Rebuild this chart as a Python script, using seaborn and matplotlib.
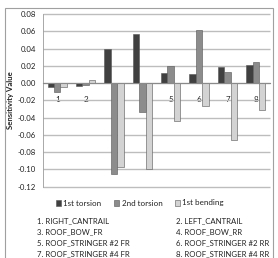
import matplotlib
matplotlib.use("Agg")
import matplotlib.pyplot as plt
import seaborn as sns
import pandas as pd
from matplotlib.patches import Rectangle
from matplotlib.ticker import FixedLocator, FormatStrFormatter

categories = ["1", "2", "3", "4", "5", "6", "7", "8"]
series_names = ["1st torsion", "2nd torsion", "1st bending"]
first_torsion = [-0.004, -0.003, 0.040, 0.057, 0.012, 0.011, 0.019, 0.021]
second_torsion = [-0.010, -0.002, -0.105, -0.034, 0.020, 0.062, 0.013, 0.024]
first_bending = [-0.005, 0.003, -0.097, -0.099, -0.044, -0.027, -0.066, -0.031]
footnotes_left = ["1. RIGHT_CANTRAIL", "3. ROOF_BOW_FR", "5. ROOF_STRINGER #2 FR", "7. ROOF_STRINGER #4 FR"]
footnotes_right = ["2. LEFT_CANTRAIL", "4. ROOF_BOW_RR", "6. ROOF_STRINGER #2 RR", "8. ROOF_STRINGER #4 RR"]
y_ticks = [0.08, 0.06, 0.04, 0.02, 0.00, -0.02, -0.04, -0.06, -0.08, -0.10, -0.12]

rows = []
for name, vals in zip(series_names, [first_torsion, second_torsion, first_bending]):
    for c, v in zip(categories, vals):
        rows.append({"cat": c, "series": name, "value": v})
df = pd.DataFrame(rows)

sns.set_style("white")
plt.rcParams["font.family"] = ["Lato", "DejaVu Sans"]
plt.rcParams["axes.unicode_minus"] = False

fig = plt.figure(figsize=(2.78, 2.58), dpi=100)
ax = fig.add_axes([43 / 278, 1 - 186.7 / 258, (270 - 43) / 278, (186.7 - 14) / 258])

palette = {"1st torsion": "#404040", "2nd torsion": "#8c8c8c", "1st bending": "#d3d3d3"}
sns.barplot(data=df, x="cat", y="value", hue="series", hue_order=series_names,
            order=categories, palette=palette, width=0.68, ax=ax,
            edgecolor="#555555", linewidth=0.4, legend=False, saturation=1, zorder=3)

ax.set_ylim(-0.12, 0.08)
ax.set_xlim(-0.5, 7.5)
ax.yaxis.set_major_locator(FixedLocator(y_ticks))
ax.yaxis.set_major_formatter(FormatStrFormatter("%.2f"))
ax.xaxis.grid(False)
ax.yaxis.grid(False)
ax.hlines(y_ticks, -0.5, 7.5, colors="#bdbdbd", linewidths=1.0, zorder=2, clip_on=False)

for s in ["top", "right"]:
    ax.spines[s].set_visible(False)
ax.spines["left"].set_color("#9a9a9a")
ax.spines["left"].set_linewidth(0.6)
ax.spines["bottom"].set_position(("data", 0))
ax.spines["bottom"].set_color("#8a8a8a")
ax.spines["bottom"].set_linewidth(0.8)
ax.spines["bottom"].set_zorder(4)

ax.tick_params(axis="y", labelsize=5.6, length=3, width=0.5, color="#9a9a9a", pad=2, labelcolor="#222222")
ax.tick_params(axis="x", which="major", labelsize=5.8, length=0, pad=9, labelcolor="#222222")
ax.xaxis.set_minor_locator(FixedLocator([i + 0.5 for i in range(-1, 8)]))
ax.tick_params(axis="x", which="minor", length=2.5, width=0.5, color="#9a9a9a", direction="out")
ax.set_xlabel("")
ax.set_ylabel("Sensitivity Value", fontsize=5.6, fontweight="bold", labelpad=3, color="#222222")

handles = [Rectangle((0, 0), 1, 1, facecolor=palette[n], edgecolor="#555555", linewidth=0.4) for n in series_names]
fig.legend(handles, series_names, loc="center", bbox_to_anchor=(140 / 278, 1 - 203 / 258),
           ncol=3, frameon=False, fontsize=5.8, handlelength=0.6, handleheight=0.8,
           handletextpad=0.3, columnspacing=1.6, labelcolor="#222222")

ys = [221, 232, 243, 253.5]
for t, y in zip(footnotes_left, ys):
    fig.text(37 / 278, 1 - y / 258, t, fontsize=5.6, va="center", ha="left", color="#222222")
for t, y in zip(footnotes_right, ys):
    fig.text(176 / 278, 1 - y / 258, t, fontsize=5.6, va="center", ha="left", color="#222222")

fig.patches.append(Rectangle((5 / 278, -0.05), (273 - 5) / 278, 1.05 - 8 / 258,
                             transform=fig.transFigure, fill=False, edgecolor="#a0a0a0", linewidth=0.8))

fig.savefig("out.png", dpi=100)
